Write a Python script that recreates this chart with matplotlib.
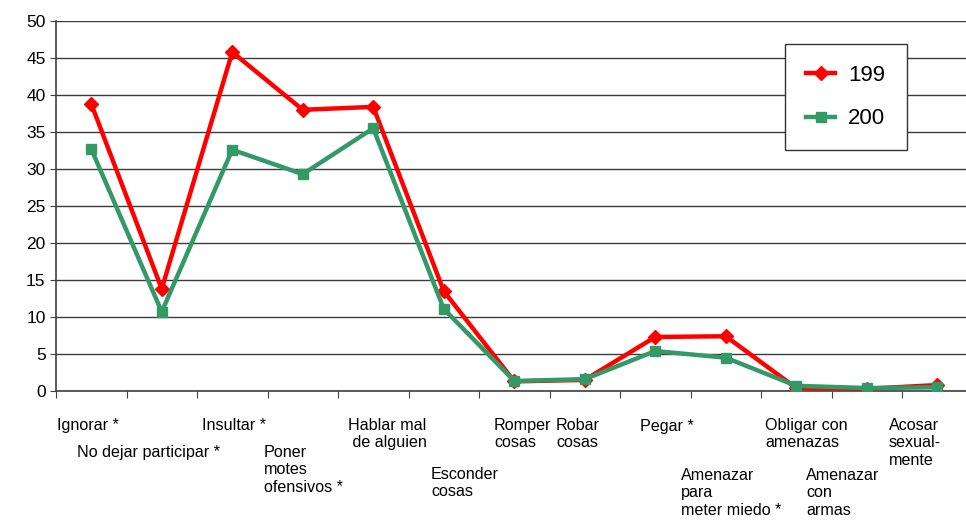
import numpy as np
import matplotlib.pyplot as plt

plt.rcParams['font.family'] = ['Liberation Sans', 'DejaVu Sans']

categories = ['Ignorar *', 'No dejar participar *', 'Insultar *',
              'Poner\nmotes\nofensivos *', 'Hablar mal\n de alguien',
              'Esconder\ncosas', 'Romper\ncosas', 'Robar\ncosas', 'Pegar *',
              'Amenazar\npara\nmeter miedo *', 'Obligar con\namenazas',
              'Amenazar\ncon\narmas', 'Acosar\nsexual-\nmente']
serie_199 = [38.8, 13.8, 45.8, 38.0, 38.4, 13.5, 1.3, 1.5, 7.3, 7.4, 0.4, 0.3, 0.8]
serie_200 = [32.7, 10.7, 32.6, 29.3, 35.5, 11.1, 1.35, 1.6, 5.4, 4.5, 0.7, 0.4, 0.5]
yticks = [0, 5, 10, 15, 20, 25, 30, 35, 40, 45, 50]

# posiciones de las etiquetas en pixeles (esquina superior izquierda)
label_pos = [(57, 418), (77, 445), (202, 418), (264, 445), (348, 418),
             (431, 467), (494, 418), (556, 418), (640, 419), (681, 468),
             (765, 418), (806, 468), (889, 418)]

W, H = 966, 522
fig = plt.figure(figsize=(W / 100, H / 100), dpi=100)
ax = fig.add_axes([56 / W, (H - 391) / H, 916.5 / W, 370 / H])

x = np.arange(len(categories))
ax.plot(x, serie_199, color='#FF0000', lw=3.2, marker='D', ms=7,
        label='199', zorder=3)
ax.plot(x, serie_200, color='#339966', lw=3.2, marker='s', ms=7,
        label='200', zorder=4)

ax.set_xlim(-0.5, len(categories) - 0.5)
ax.set_ylim(0, 50)
ax.set_yticks(yticks)
ax.set_xticks(np.arange(-0.5, len(categories), 1))
ax.set_xticklabels([])
ax.tick_params(axis='y', labelsize=12.5, length=4, direction='out', color='#404040')
ax.tick_params(axis='x', length=5, direction='out', color='#404040')
ax.yaxis.grid(True, color='#3c3c3c', lw=1)
ax.set_axisbelow(True)
for s in ['top', 'right']:
    ax.spines[s].set_visible(False)
for s in ['left', 'bottom']:
    ax.spines[s].set_color('#404040')
    ax.spines[s].set_linewidth(1.2)

for lab, (px, py) in zip(categories, label_pos):
    fig.text(px / W, 1 - py / H, lab, fontsize=11.6, va='top', ha='left',
             linespacing=1.2)

leg = ax.legend(loc='upper left', bbox_to_anchor=(785 / W, 1 - 44 / H),
                bbox_transform=fig.transFigure, fontsize=16, frameon=True,
                fancybox=False, edgecolor='#333333', handlelength=1.3,
                labelspacing=1.0, borderpad=0.95, handletextpad=0.6,
                borderaxespad=0)
leg.get_frame().set_linewidth(1)
leg.get_frame().set_alpha(1)

fig.savefig('out.png', dpi=100)
